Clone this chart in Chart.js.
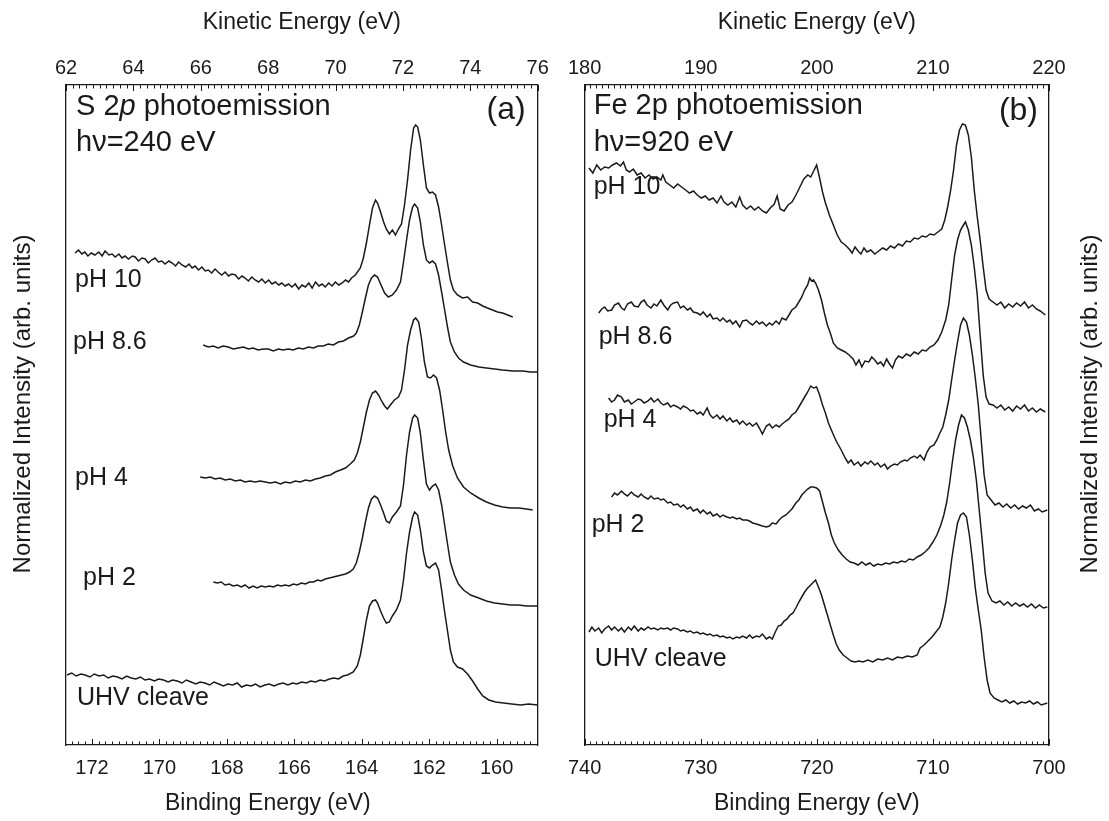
<!DOCTYPE html>
<html>
<head>
<meta charset="utf-8">
<script src="https://cdn.jsdelivr.net/npm/chart.js@4.4.1/dist/chart.umd.min.js"></script>
<style>
  html, body { margin: 0; padding: 0; background: #fff; }
  #wrap { position: relative; width: 1109px; height: 821px; overflow: hidden; }
  canvas { position: absolute; top: 0; }
  #s2p { left: 0; }
  #fe2p { left: 557px; }
</style>
</head>
<body>
<div id="wrap">
  <canvas id="s2p" width="557" height="821"></canvas>
  <canvas id="fe2p" width="552" height="821"></canvas>
</div>
<script>
// curve names, top to bottom
const s2pLabels = ["pH 10", "pH 8.6", "pH 4", "pH 2", "UHV cleave"]
const fe2pLabels = ["pH 10", "pH 8.6", "pH 4", "pH 2", "UHV cleave"]

// axis tick values (eV)
const s2pBindingTicks = [172, 170, 168, 166, 164, 162, 160]
const s2pKineticTicks = [62, 64, 66, 68, 70, 72, 74, 76]
const fe2pBindingTicks = [740, 730, 720, 710, 700]
const fe2pKineticTicks = [180, 190, 200, 210, 220]

// S 2p spectra: [binding energy (eV), offset intensity (arb.)]
const s2pPH10 = [[172.50,492],[172.40,495],[172.30,491],[172.21,493],[172.12,489],[172.02,492],[171.91,490],[171.80,493],[171.70,489],[171.61,494],[171.50,490],[171.40,491],[171.31,488],[171.20,491],[171.11,487],[171.02,489],[170.92,486],[170.80,489],[170.72,488],[170.62,484],[170.52,487],[170.42,486],[170.33,482],[170.23,485],[170.13,487],[170.03,483],[169.93,484],[169.83,481],[169.72,484],[169.62,482],[169.52,479],[169.43,483],[169.33,480],[169.22,478],[169.12,481],[169.03,477],[168.94,479],[168.84,475],[168.74,478],[168.64,474],[168.55,475],[168.45,472],[168.35,476],[168.26,473],[168.15,470],[168.05,473],[167.95,469],[167.85,471],[167.75,470],[167.65,466],[167.55,469],[167.46,467],[167.36,464],[167.26,468],[167.16,465],[167.06,463],[166.96,466],[166.86,462],[166.76,465],[166.66,461],[166.56,463],[166.46,460],[166.37,462],[166.27,459],[166.17,461],[166.07,458],[165.97,461],[165.87,456],[165.77,460],[165.67,458],[165.57,462],[165.47,457],[165.37,463],[165.27,459],[165.17,461],[165.08,458],[164.98,462],[164.88,459],[164.78,463],[164.68,460],[164.58,462],[164.48,465],[164.39,463],[164.30,467],[164.19,470],[164.04,477],[163.95,487],[163.86,502],[163.77,520],[163.68,537],[163.59,545],[163.53,542],[163.44,533],[163.35,523],[163.27,516],[163.18,511],[163.09,515],[163.00,510],[162.91,516],[162.82,521],[162.73,540],[162.64,565],[162.55,595],[162.46,617],[162.40,620],[162.34,618],[162.26,605],[162.17,580],[162.08,557],[161.99,552],[161.90,553],[161.81,550],[161.72,538],[161.63,520],[161.54,500],[161.45,481],[161.37,465],[161.28,455],[161.16,450],[161.01,447],[160.86,448],[160.71,443],[160.56,442],[160.41,439],[160.27,437],[160.12,435],[159.97,433],[159.82,432],[159.67,430],[159.52,428]]
const s2pPH86 = [[168.70,400],[168.55,398],[168.40,399],[168.26,397],[168.11,399],[167.96,398],[167.81,396],[167.66,397],[167.51,398],[167.36,396],[167.22,397],[167.07,395],[166.92,396],[166.77,396],[166.62,394],[166.47,396],[166.33,395],[166.18,396],[166.03,395],[165.88,397],[165.73,396],[165.58,398],[165.43,397],[165.29,399],[165.14,399],[164.99,401],[164.84,400],[164.69,403],[164.54,404],[164.39,407],[164.24,409],[164.16,412],[164.07,420],[163.98,433],[163.89,447],[163.80,460],[163.71,467],[163.62,470],[163.53,468],[163.44,461],[163.32,452],[163.21,448],[163.09,450],[162.97,455],[162.85,463],[162.76,483],[162.67,505],[162.58,525],[162.49,538],[162.43,541],[162.34,537],[162.26,523],[162.17,500],[162.08,485],[161.99,482],[161.90,484],[161.81,481],[161.72,470],[161.63,453],[161.54,435],[161.45,417],[161.37,403],[161.25,393],[161.13,387],[160.98,383],[160.77,380],[160.53,378],[160.30,377],[160.06,376],[159.82,375],[159.52,374],[159.23,374],[158.99,373],[158.78,373]]
const s2pPH4 = [[168.79,268],[168.64,267],[168.49,268],[168.35,266],[168.20,267],[168.05,265],[167.90,266],[167.75,264],[167.60,265],[167.46,263],[167.31,264],[167.16,263],[167.01,264],[166.86,263],[166.71,262],[166.56,263],[166.41,261],[166.27,263],[166.12,262],[165.97,264],[165.82,263],[165.67,265],[165.52,264],[165.37,266],[165.23,267],[165.08,269],[164.93,270],[164.78,273],[164.63,275],[164.48,277],[164.34,281],[164.22,285],[164.13,292],[164.04,303],[163.95,318],[163.86,333],[163.77,345],[163.68,352],[163.59,354],[163.50,350],[163.41,344],[163.32,339],[163.24,336],[163.15,340],[163.03,345],[162.91,348],[162.82,355],[162.73,375],[162.64,400],[162.55,415],[162.46,425],[162.40,427],[162.31,423],[162.23,407],[162.14,383],[162.05,368],[161.96,367],[161.87,370],[161.78,367],[161.69,355],[161.60,335],[161.51,313],[161.42,295],[161.30,279],[161.16,267],[160.98,258],[160.77,252],[160.53,247],[160.30,243],[160.06,240],[159.82,238],[159.58,237],[159.35,237],[159.11,236],[158.93,235]]
const s2pPH2 = [[168.40,163],[168.28,162],[168.17,163],[168.05,160],[167.93,161],[167.81,159],[167.69,160],[167.57,158],[167.46,160],[167.34,157],[167.22,159],[167.10,157],[166.98,159],[166.86,158],[166.74,159],[166.62,158],[166.50,160],[166.38,159],[166.27,160],[166.15,159],[166.03,161],[165.91,160],[165.79,162],[165.67,161],[165.55,163],[165.43,163],[165.31,165],[165.20,164],[165.08,166],[164.96,167],[164.84,168],[164.72,169],[164.60,170],[164.48,171],[164.36,173],[164.25,176],[164.16,182],[164.07,193],[163.98,207],[163.89,223],[163.80,237],[163.71,246],[163.62,249],[163.53,247],[163.44,240],[163.35,232],[163.27,224],[163.18,222],[163.09,228],[162.97,233],[162.85,239],[162.76,260],[162.67,290],[162.58,313],[162.49,327],[162.43,330],[162.34,327],[162.26,312],[162.17,285],[162.08,261],[161.99,255],[161.90,259],[161.81,261],[161.72,255],[161.63,240],[161.54,220],[161.45,200],[161.37,183],[161.25,170],[161.13,161],[160.98,155],[160.77,150],[160.53,147],[160.30,144],[160.06,142],[159.82,141],[159.58,140],[159.35,140],[159.11,139],[158.78,139]]
const s2pUHV = [[172.74,70],[172.60,72],[172.47,69],[172.33,71],[172.20,70],[172.06,68],[171.93,71],[171.79,69],[171.65,70],[171.52,67],[171.38,69],[171.24,68],[171.11,66],[170.97,69],[170.84,67],[170.70,66],[170.56,68],[170.43,65],[170.29,66],[170.15,64],[170.02,66],[169.88,65],[169.74,63],[169.61,65],[169.47,64],[169.33,62],[169.20,65],[169.06,63],[168.92,61],[168.79,63],[168.65,62],[168.51,60],[168.38,63],[168.24,61],[168.10,59],[167.97,61],[167.83,60],[167.69,62],[167.56,58],[167.42,60],[167.28,59],[167.15,61],[167.01,58],[166.87,60],[166.74,61],[166.60,59],[166.46,61],[166.33,62],[166.19,60],[166.05,62],[165.92,61],[165.78,63],[165.64,62],[165.51,64],[165.37,63],[165.23,65],[165.10,64],[164.96,66],[164.82,67],[164.69,66],[164.55,69],[164.42,70],[164.25,73],[164.13,79],[164.04,90],[163.95,107],[163.86,125],[163.77,139],[163.68,144],[163.59,145],[163.53,142],[163.44,134],[163.35,127],[163.27,122],[163.18,123],[163.09,129],[162.97,135],[162.85,145],[162.76,165],[162.67,192],[162.58,213],[162.49,228],[162.43,233],[162.34,230],[162.26,215],[162.17,193],[162.08,179],[161.99,177],[161.90,180],[161.81,182],[161.72,175],[161.63,155],[161.54,133],[161.45,113],[161.37,95],[161.28,83],[161.16,78],[161.01,76],[160.86,71],[160.71,64],[160.56,56],[160.41,49],[160.23,45],[160.03,43],[159.79,42],[159.55,41],[159.29,40],[159.05,41],[158.78,40]]

// Fe 2p spectra: [binding energy (eV), offset intensity (arb.)]
const fe2pPH10 = [[739.63,577],[739.30,572],[738.96,580],[738.62,575],[738.28,578],[737.94,577],[737.60,580],[737.26,582],[736.92,579],[736.66,583],[736.41,575],[736.15,573],[735.81,576],[735.48,570],[735.14,572],[734.80,567],[734.46,570],[734.12,566],[733.78,568],[733.44,565],[733.27,570],[733.01,563],[732.67,560],[732.33,557],[731.99,561],[731.65,558],[731.31,555],[730.97,552],[730.63,554],[730.30,550],[729.96,547],[729.62,549],[729.28,545],[728.94,547],[728.60,542],[728.26,549],[728.00,543],[727.66,540],[727.32,543],[726.98,538],[726.65,548],[726.39,540],[726.05,536],[725.71,539],[725.37,535],[725.03,538],[724.69,534],[724.35,532],[724.01,537],[723.67,541],[723.42,549],[723.16,536],[722.82,534],[722.48,540],[722.14,543],[721.80,550],[721.46,558],[721.12,566],[720.78,570],[720.53,568],[720.27,574],[720.02,580],[719.76,567],[719.51,553],[719.26,542],[718.92,530],[718.58,520],[718.24,510],[717.90,503],[717.56,500],[717.22,496],[716.96,492],[716.71,498],[716.45,494],[716.20,491],[715.94,497],[715.69,493],[715.35,495],[715.01,491],[714.67,494],[714.33,497],[713.99,495],[713.65,499],[713.31,497],[712.97,501],[712.63,499],[712.29,504],[711.95,503],[711.61,507],[711.27,506],[710.93,509],[710.59,508],[710.25,511],[709.91,510],[709.57,513],[709.24,516],[708.98,525],[708.73,538],[708.47,555],[708.22,575],[707.97,600],[707.71,615],[707.46,621],[707.20,620],[706.95,610],[706.69,588],[706.44,555],[706.18,528],[705.93,505],[705.67,478],[705.42,455],[705.16,446],[704.82,443],[704.48,440],[704.15,443],[703.81,437],[703.47,441],[703.13,438],[702.79,442],[702.45,439],[702.11,443],[701.77,437],[701.43,440],[701.09,436],[700.75,434],[700.32,430]]
const fe2pPH86 = [[738.79,432],[738.53,436],[738.28,438],[738.02,434],[737.68,435],[737.43,440],[737.09,442],[736.83,437],[736.58,435],[736.32,441],[735.98,443],[735.73,439],[735.39,438],[735.14,443],[734.88,445],[734.63,440],[734.29,437],[734.03,441],[733.78,439],[733.44,445],[733.19,440],[732.85,435],[732.59,440],[732.34,442],[732.00,443],[731.74,437],[731.49,439],[731.15,435],[730.89,437],[730.64,433],[730.30,432],[730.04,430],[729.79,433],[729.45,428],[729.19,431],[728.94,426],[728.60,427],[728.34,424],[728.09,427],[727.75,423],[727.49,425],[727.24,421],[726.98,424],[726.65,418],[726.39,424],[726.05,425],[725.80,422],[725.54,420],[725.20,424],[724.95,421],[724.69,423],[724.35,419],[724.09,422],[723.84,420],[723.51,424],[723.25,421],[722.99,427],[722.66,425],[722.40,430],[722.15,435],[721.81,438],[721.55,443],[721.30,448],[721.05,455],[720.79,460],[720.62,467],[720.45,464],[720.28,465],[720.11,462],[719.86,455],[719.60,445],[719.35,432],[719.09,420],[718.84,412],[718.58,402],[718.24,397],[717.90,395],[717.56,393],[717.22,390],[716.88,386],[716.63,380],[716.37,385],[716.12,378],[715.86,384],[715.52,383],[715.27,388],[715.01,385],[714.76,381],[714.50,383],[714.25,379],[713.99,386],[713.74,381],[713.48,377],[713.23,385],[712.97,389],[712.63,387],[712.29,391],[711.95,389],[711.61,393],[711.27,391],[710.93,395],[710.59,394],[710.25,398],[709.91,400],[709.57,405],[709.24,413],[708.90,425],[708.64,440],[708.39,465],[708.13,490],[707.88,505],[707.62,515],[707.37,520],[707.20,523],[706.95,515],[706.69,500],[706.44,478],[706.18,450],[705.93,410],[705.67,370],[705.42,348],[705.16,341],[704.82,340],[704.48,337],[704.15,340],[703.81,335],[703.47,338],[703.13,334],[702.79,339],[702.45,336],[702.11,340],[701.77,334],[701.43,337],[701.09,333],[700.75,336],[700.32,333]]
const fe2pPH4 = [[737.94,347],[737.68,343],[737.43,345],[737.17,350],[736.83,348],[736.58,343],[736.24,345],[735.98,341],[735.73,343],[735.39,346],[735.14,345],[734.88,342],[734.54,344],[734.29,347],[734.03,343],[733.69,346],[733.44,342],[733.19,340],[732.85,342],[732.59,338],[732.34,340],[731.99,338],[731.74,336],[731.49,339],[731.15,337],[730.89,334],[730.64,335],[730.30,331],[730.04,333],[729.79,330],[729.45,337],[729.19,330],[728.94,327],[728.60,330],[728.34,326],[728.09,329],[727.75,324],[727.49,327],[727.24,323],[726.90,325],[726.65,321],[726.39,324],[726.05,320],[725.80,322],[725.54,319],[725.20,322],[724.95,317],[724.69,311],[724.35,319],[724.09,321],[723.84,317],[723.51,320],[723.25,318],[722.99,321],[722.66,324],[722.40,326],[722.15,330],[721.81,333],[721.55,338],[721.30,343],[721.05,348],[720.79,353],[720.53,359],[720.28,357],[720.02,358],[719.76,350],[719.51,340],[719.26,332],[719.00,322],[718.75,315],[718.49,308],[718.24,302],[717.90,295],[717.56,287],[717.30,282],[717.05,285],[716.79,280],[716.45,283],[716.20,279],[715.86,283],[715.61,281],[715.35,284],[715.01,280],[714.76,282],[714.50,278],[714.16,281],[713.91,276],[713.65,279],[713.31,281],[713.06,280],[712.80,283],[712.46,285],[712.21,284],[711.95,287],[711.61,289],[711.36,287],[711.10,290],[710.76,285],[710.51,293],[710.25,298],[709.91,300],[709.66,305],[709.40,312],[709.15,318],[708.90,330],[708.64,345],[708.39,365],[708.13,385],[707.88,403],[707.62,420],[707.37,427],[707.11,423],[706.86,410],[706.60,390],[706.35,367],[706.09,340],[705.84,305],[705.59,270],[705.33,250],[704.99,245],[704.65,240],[704.31,242],[703.97,238],[703.64,241],[703.30,237],[702.96,240],[702.62,236],[702.28,239],[701.94,237],[701.60,240],[701.26,234],[700.92,236],[700.58,233],[700.15,235]]
const fe2pPH2 = [[737.68,248],[737.43,252],[737.17,250],[736.83,254],[736.58,251],[736.32,249],[735.98,253],[735.73,250],[735.39,248],[735.14,251],[734.88,248],[734.54,246],[734.29,249],[734.03,246],[733.69,247],[733.44,245],[733.19,246],[732.85,242],[732.59,243],[732.34,240],[731.99,241],[731.74,238],[731.49,240],[731.15,236],[730.89,238],[730.64,234],[730.30,236],[730.04,232],[729.79,235],[729.45,231],[729.19,233],[728.94,229],[728.60,231],[728.34,228],[728.09,230],[727.75,228],[727.49,227],[727.24,228],[726.90,226],[726.65,227],[726.39,225],[726.05,225],[725.80,224],[725.54,222],[725.20,221],[724.95,220],[724.69,219],[724.35,218],[724.09,219],[723.84,222],[723.51,221],[723.25,225],[722.99,228],[722.66,230],[722.40,233],[722.15,236],[721.81,242],[721.55,245],[721.30,250],[721.05,253],[720.79,256],[720.53,258],[720.28,258],[720.02,257],[719.76,254],[719.51,243],[719.26,232],[719.00,222],[718.75,210],[718.49,202],[718.15,195],[717.81,190],[717.47,186],[717.13,183],[716.79,182],[716.45,180],[716.12,183],[715.78,180],[715.44,182],[715.10,179],[714.76,181],[714.42,180],[714.08,182],[713.74,181],[713.40,183],[713.06,182],[712.72,184],[712.38,183],[712.04,186],[711.70,185],[711.36,188],[711.02,190],[710.68,193],[710.34,197],[710.00,203],[709.66,210],[709.32,220],[709.06,230],[708.81,243],[708.56,262],[708.30,285],[708.05,305],[707.79,320],[707.54,330],[707.28,327],[707.03,318],[706.77,305],[706.52,288],[706.26,265],[706.01,235],[705.76,205],[705.50,172],[705.25,152],[704.91,144],[704.57,142],[704.23,144],[703.89,140],[703.55,143],[703.21,139],[702.87,142],[702.53,139],[702.19,141],[701.85,138],[701.51,141],[701.17,137],[700.83,140],[700.49,137],[700.15,138]]
const fe2pUHV = [[739.63,113],[739.38,118],[739.12,114],[738.79,117],[738.53,112],[738.28,116],[737.94,119],[737.68,115],[737.43,118],[737.09,114],[736.83,117],[736.58,113],[736.24,118],[735.98,115],[735.73,119],[735.39,114],[735.14,117],[734.88,115],[734.54,118],[734.29,116],[734.03,117],[733.69,115],[733.44,117],[733.19,116],[732.85,117],[732.59,115],[732.34,117],[731.99,116],[731.74,114],[731.49,115],[731.15,113],[730.89,114],[730.64,112],[730.30,113],[730.04,111],[729.79,112],[729.45,110],[729.19,111],[728.94,109],[728.60,110],[728.34,108],[728.09,109],[727.75,107],[727.49,108],[727.24,106],[726.90,108],[726.65,107],[726.39,109],[726.05,107],[725.80,110],[725.54,107],[725.20,109],[724.95,108],[724.69,111],[724.35,106],[724.09,108],[723.84,106],[723.58,113],[723.32,119],[723.07,120],[722.82,124],[722.56,126],[722.31,130],[722.05,132],[721.81,137],[721.55,143],[721.30,148],[721.05,153],[720.79,157],[720.53,160],[720.28,163],[720.11,165],[719.86,158],[719.60,150],[719.35,140],[719.09,130],[718.84,120],[718.58,110],[718.33,101],[718.07,95],[717.73,90],[717.39,87],[717.05,84],[716.71,83],[716.37,84],[716.03,83],[715.61,85],[715.18,83],[714.76,86],[714.33,85],[713.91,87],[713.48,85],[713.06,88],[712.63,87],[712.21,89],[711.78,88],[711.36,90],[711.10,97],[710.76,100],[710.42,104],[710.08,108],[709.74,113],[709.40,118],[709.15,128],[708.90,142],[708.64,162],[708.39,185],[708.13,205],[707.88,222],[707.62,230],[707.37,232],[707.11,228],[706.86,210],[706.60,185],[706.35,157],[706.09,135],[705.84,115],[705.59,88],[705.33,65],[705.08,52],[704.74,47],[704.40,45],[704.06,43],[703.72,45],[703.38,42],[703.04,44],[702.70,41],[702.36,43],[702.02,42],[701.68,44],[701.34,41],[701.00,43],[700.66,40],[700.15,42]]

const INK = "#1a1a1a"
const FONT = "'Liberation Sans', Arial, Helvetica, sans-serif"

// inward minor/major ticks on the top and bottom frame edges
const inwardTicks = {
  id: "inwardTicks",
  afterDraw(chart, args, opts) {
    const { ctx, chartArea } = chart
    ctx.save()
    ctx.strokeStyle = INK
    ctx.lineWidth = 1
    for (const [id, edge, dir] of [["x", chartArea.bottom, -1], ["x2", chartArea.top, 1]]) {
      const scale = chart.scales[id]
      const step = opts.minor[id]
      const lo = Math.min(scale.min, scale.max)
      const hi = Math.max(scale.min, scale.max)
      for (let n = Math.ceil(lo / step - 1e-6); n * step <= hi + 1e-6; n++) {
        const v = n * step
        const major = scale.ticks.some(t => Math.abs(t.value - v) < step / 10)
        const px = Math.round(scale.getPixelForValue(v)) + 0.5
        ctx.beginPath()
        ctx.moveTo(px, edge)
        ctx.lineTo(px, edge + dir * (major ? 6 : 3.5))
        ctx.stroke()
      }
    }
    ctx.restore()
  }
}

// axis titles and in-panel annotations
const panelText = {
  id: "panelText",
  afterDraw(chart, args, opts) {
    const { ctx, chartArea: a } = chart
    ctx.save()
    ctx.fillStyle = INK
    ctx.textBaseline = "middle"
    ctx.textAlign = "left"
    for (const item of opts.items) {
      const parts = item.parts || [[item.text, ""]]
      const widths = parts.map(([t, style]) => {
        ctx.font = `${style}${item.size}px ${FONT}`
        return ctx.measureText(t).width
      })
      const total = widths.reduce((s, w) => s + w, 0)
      let x = item.align === "right" ? a.right - item.dx - total : a.left + item.dx
      parts.forEach(([t, style], i) => {
        ctx.font = `${style}${item.size}px ${FONT}`
        ctx.fillText(t, x, a.top + item.dy)
        x += widths[i]
      })
    }
    ctx.textAlign = "center"
    for (const t of opts.titles) {
      ctx.save()
      ctx.font = `${t.size || 23}px ${FONT}`
      ctx.translate(t.x(chart), t.y(chart))
      ctx.rotate(t.rotate || 0)
      ctx.fillText(t.text, 0, 0)
      ctx.restore()
    }
    ctx.restore()
  }
}

function energyScales(binding, kinetic, sideWidths) {
  const tickFont = { family: FONT, size: 20 }
  const hidden = { display: false, drawTicks: false }
  const frame = { display: true, color: INK, width: 1.3 }
  const fixedTicks = values => scale => { scale.ticks = values.map(v => ({ value: v })) }
  return {
    x: {
      type: "linear", position: "bottom", reverse: true, min: binding.min, max: binding.max,
      afterBuildTicks: fixedTicks(binding.ticks),
      ticks: { font: tickFont, color: INK, padding: 11, maxRotation: 0, autoSkip: false },
      grid: hidden, border: frame,
      afterFit: s => { s.height = 76 }
    },
    x2: {
      type: "linear", position: "top", min: kinetic.min, max: kinetic.max,
      afterBuildTicks: fixedTicks(kinetic.ticks),
      ticks: { font: tickFont, color: INK, padding: 5, maxRotation: 0, autoSkip: false },
      grid: hidden, border: frame,
      afterFit: s => { s.height = 85 }
    },
    y: {
      type: "linear", position: "left", min: 0, max: 660,
      ticks: { display: false }, grid: hidden, border: frame,
      afterFit: s => { s.width = sideWidths[0] }
    },
    y2: {
      type: "linear", position: "right", min: 0, max: 660,
      ticks: { display: false }, grid: hidden, border: frame,
      afterFit: s => { s.width = sideWidths[1] }
    }
  }
}

function makePanel(canvasId, names, series, scales, minor, items, titles) {
  return new Chart(document.getElementById(canvasId), {
    type: "line",
    data: {
      datasets: series.map((data, i) => ({
        label: names[i],
        data,
        borderColor: INK,
        borderWidth: 1.5,
        pointRadius: 0,
        tension: 0,
        fill: false,
        xAxisID: "x",
        yAxisID: "y"
      }))
    },
    options: {
      responsive: false,
      animation: false,
      events: [],
      layout: { padding: 0 },
      plugins: {
        legend: { display: false },
        tooltip: { enabled: false },
        inwardTicks: { minor },
        panelText: { items, titles }
      },
      scales
    },
    plugins: [inwardTicks, panelText]
  })
}

const mid = a => (a.left + a.right) / 2
const yTitle = "Normalized Intensity (arb. units)"

makePanel(
  "s2p", s2pLabels,
  [s2pPH10, s2pPH86, s2pPH4, s2pPH2, s2pUHV],
  energyScales(
    { min: 158.78, max: 172.77, ticks: s2pBindingTicks },
    { min: 62, max: 76, ticks: s2pKineticTicks },
    [66, 19.3]
  ),
  { x: 0.2, x2: 0.2 },
  [
    { parts: [["S 2", ""], ["p", "italic "], [" photoemission", ""]], dx: 10, dy: 22, size: 29 },
    { text: "h\u03bd=240 eV", dx: 10, dy: 58, size: 29 },
    { text: "(a)", dx: 12, dy: 25, size: 32, align: "right" },
    { text: s2pLabels[0], dx: 9, dy: 195, size: 25 },
    { text: s2pLabels[1], dx: 7, dy: 257, size: 25 },
    { text: s2pLabels[2], dx: 9, dy: 393, size: 25 },
    { text: s2pLabels[3], dx: 17, dy: 493, size: 25 },
    { text: s2pLabels[4], dx: 11, dy: 613, size: 25 }
  ],
  [
    { text: "Kinetic Energy (eV)", x: c => mid(c.chartArea), y: () => 23 },
    { text: "Binding Energy (eV)", x: c => mid(c.chartArea) - 34, y: c => c.height - 17 },
    { text: yTitle, size: 24, x: () => 23, y: () => 404, rotate: -Math.PI / 2 }
  ]
)

makePanel(
  "fe2p", fe2pLabels,
  [fe2pPH10, fe2pPH86, fe2pPH4, fe2pPH2, fe2pUHV],
  energyScales(
    { min: 700, max: 740, ticks: fe2pBindingTicks },
    { min: 180, max: 220, ticks: fe2pKineticTicks },
    [20.7, 60]
  ),
  { x: 0.5, x2: 0.5 },
  [
    { text: "Fe 2p photoemission", dx: 9, dy: 21, size: 29 },
    { text: "h\u03bd=920 eV", dx: 9, dy: 58, size: 29 },
    { text: "(b)", dx: 11, dy: 26, size: 32, align: "right" },
    { text: fe2pLabels[0], dx: 9, dy: 102, size: 25 },
    { text: fe2pLabels[1], dx: 14, dy: 252, size: 25 },
    { text: fe2pLabels[2], dx: 19, dy: 335, size: 25 },
    { text: fe2pLabels[3], dx: 7, dy: 440, size: 25 },
    { text: fe2pLabels[4], dx: 10, dy: 574, size: 25 }
  ],
  [
    { text: "Kinetic Energy (eV)", x: c => mid(c.chartArea), y: () => 23 },
    { text: "Binding Energy (eV)", x: c => mid(c.chartArea), y: c => c.height - 17 },
    { text: yTitle, size: 24, x: c => c.width - 19, y: () => 404, rotate: -Math.PI / 2 }
  ]
)
</script>
</body>
</html>
